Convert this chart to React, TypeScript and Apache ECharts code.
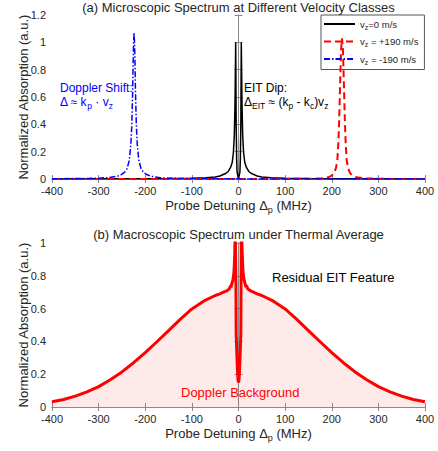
import React, { useEffect, useRef } from "react";
import * as echarts from "echarts";

// ---------- data ----------
const xTickMin = -400;
const xTickMax = 400;

// (a) microscopic spectra
const blackX = [-400, -300, -200, -150, -100, -70, -50, -40, -28, -22, -17, -13.5, -11, -9, -7.5, -6.5, -6, -5.5, -5, -4, -3, 0, 3, 4, 5, 5.5, 6, 6.5, 7.5, 9, 11, 13.5, 17, 22, 28, 40, 50, 70, 100, 150, 200, 300, 400];
const blackY = [0.0005, 0.001, 0.002, 0.003, 0.005, 0.009, 0.015, 0.022, 0.04, 0.055, 0.085, 0.12, 0.19, 0.32, 0.55, 0.85, 1.0, 0.7, 0.4, 0.15, 0.05, 0.0, 0.05, 0.15, 0.4, 0.7, 1.0, 0.85, 0.55, 0.32, 0.19, 0.12, 0.085, 0.055, 0.04, 0.022, 0.015, 0.009, 0.005, 0.003, 0.002, 0.001, 0.0005];

const redX = [-400, -200, 0, 100, 122, 150, 172, 180, 192, 200, 205, 209, 212, 214, 216, 218, 220, 222, 224, 226, 228, 230, 232, 235, 239, 244, 252, 272, 322, 400];
const redY = [0, 0, 0.0002, 0.0006, 0.001, 0.002, 0.004, 0.006, 0.012, 0.025, 0.045, 0.08, 0.14, 0.25, 0.44, 0.7, 0.95, 1.03, 0.95, 0.7, 0.44, 0.25, 0.14, 0.08, 0.045, 0.025, 0.012, 0.004, 0.001, 0.0005];

const blueX = [-400, -350, -324, -300, -280, -260, -250, -244, -239, -234, -231, -229, -227, -226, -225, -224, -223, -222, -221, -219, -217, -214, -209, -204, -198, -188, -168, -148, -124, -24, 100, 200, 300, 400];
const blueY = [0.002, 0.003, 0.004, 0.006, 0.01, 0.02, 0.035, 0.05, 0.075, 0.14, 0.25, 0.38, 0.65, 0.85, 1.0, 1.07, 1.0, 0.85, 0.65, 0.38, 0.25, 0.14, 0.075, 0.05, 0.035, 0.02, 0.01, 0.006, 0.004, 0.001, 0.0005, 0.0003, 0.0002, 0.0001];

// (b) thermally averaged spectrum
const thermX = [-400, -375, -350, -325, -300, -275, -250, -225, -200, -175, -150, -125, -100, -75, -50, -40, -30, -25, -20, -17, -16, -15, -12, -10, -9, -8, -7, -6, -5.5, -5, -4, -3, -2, -1, 0, 1, 2, 3, 4, 5, 5.5, 6, 7, 8, 9, 10, 12, 15, 16, 17, 20, 25, 30, 40, 50, 75, 100, 125, 150, 175, 200, 225, 250, 275, 300, 325, 350, 375, 400];
const thermY = [0.032, 0.046, 0.066, 0.092, 0.124, 0.166, 0.214, 0.27, 0.332, 0.398, 0.466, 0.534, 0.598, 0.645, 0.68, 0.69, 0.703, 0.708, 0.72, 0.738, 0.728, 0.745, 0.775, 0.815, 0.86, 0.94, 1.1, 1.1, 0.75, 0.45, 0.36, 0.28, 0.21, 0.165, 0.15, 0.165, 0.21, 0.28, 0.36, 0.45, 0.75, 1.1, 1.1, 0.94, 0.86, 0.815, 0.775, 0.743, 0.73, 0.74, 0.72, 0.71, 0.703, 0.69, 0.68, 0.645, 0.598, 0.534, 0.466, 0.398, 0.332, 0.27, 0.214, 0.166, 0.124, 0.092, 0.066, 0.046, 0.032];

const legendNames = ["vz=0 m/s", "vz = +190 m/s", "vz = -190 m/s"];
const legendRich = ["{t|v}{s|z}{t|=0 m/s}", "{t|v}{s|z}{t| = +190 m/s}", "{t|v}{s|z}{t| = -190 m/s}"];

const titleA = "(a) Microscopic Spectrum at Different Velocity Classes";
const titleB = "(b) Macroscopic Spectrum under Thermal Average";
const xName = "Probe Detuning Δ{s|p} (MHz)";
const yName = "Normalized Absorption (a.u.)";

const zip = (xs: number[], ys: number[]) => xs.map((x, i) => [x, ys[i]]);

const FONT = "'Liberation Sans', Arial, Helvetica, sans-serif";
const AX = "#8a8a8a";
const TXT = "#262626";

const subRich = (size: number, pad: number) => ({
  s: { fontSize: size, padding: [pad, 0, 0, 0], fontFamily: FONT },
});

function xAxes(gridIndex: number) {
  return [
    {
      type: "value",
      gridIndex,
      min: xTickMin,
      max: xTickMax,
      interval: 100,
      position: "bottom",
      name: xName,
      nameLocation: "middle",
      nameGap: 18,
      nameMoveOverlap: false,
      nameTextStyle: { fontSize: 13, color: TXT, fontFamily: FONT, rich: subRich(9, 8) },
      axisLine: { show: true, lineStyle: { color: AX, width: 1 } },
      axisTick: { show: true, inside: true, length: 4, lineStyle: { color: AX } },
      axisLabel: { fontSize: 11, color: TXT, fontFamily: FONT, margin: 6 },
      splitLine: { show: false },
    },
    {
      type: "value",
      gridIndex,
      min: xTickMin,
      max: xTickMax,
      interval: 100,
      position: "top",
      axisLine: { show: true, lineStyle: { color: AX, width: 1 } },
      axisTick: { show: true, inside: true, length: 4, lineStyle: { color: AX } },
      axisLabel: { show: false },
      splitLine: { show: false },
    },
  ];
}

function yAxes(gridIndex: number, max: number) {
  return [
    {
      type: "value",
      gridIndex,
      min: 0,
      max,
      interval: 0.2,
      position: "left",
      name: yName,
      nameLocation: "middle",
      nameGap: 22,
      nameMoveOverlap: false,
      nameTextStyle: { fontSize: 13, color: TXT, fontFamily: FONT },
      axisLine: { show: true, lineStyle: { color: AX, width: 1 } },
      axisTick: { show: true, inside: true, length: 4, lineStyle: { color: AX } },
      axisLabel: { fontSize: 11, color: TXT, fontFamily: FONT, margin: 6 },
      splitLine: { show: false },
    },
    {
      type: "value",
      gridIndex,
      min: 0,
      max,
      interval: 0.2,
      position: "right",
      axisLine: { show: true, lineStyle: { color: AX, width: 1 } },
      axisTick: { show: true, inside: true, length: 4, lineStyle: { color: AX } },
      axisLabel: { show: false },
      splitLine: { show: false },
    },
  ];
}

function txt(x: number, y: number, text: string, color: string, size: number, align = "left", rich?: any) {
  return {
    type: "text",
    x,
    y,
    z: 10,
    style: {
      text,
      fill: color,
      font: `${size}px ${FONT}`,
      fontSize: size,
      fontFamily: FONT,
      align,
      verticalAlign: "middle",
      rich,
    },
  };
}

export default function App() {
  const ref = useRef<HTMLDivElement>(null);
  useEffect(() => {
    if (!ref.current) return;
    const chart = echarts.init(ref.current, null, { renderer: "svg" });
    const option: any = {
      animation: false,
      backgroundColor: "#ffffff",
      textStyle: { fontFamily: FONT },
      grid: [
        { left: 52, top: 15, width: 373, height: 164, containLabel: false },
        { left: 52, top: 243, width: 373, height: 164, containLabel: false },
      ],
      xAxis: [...xAxes(0), ...xAxes(1)],
      yAxis: [...yAxes(0, 1.2), ...yAxes(1, 1)],
      legend: {
        data: legendNames,
        orient: "vertical",
        left: 321,
        top: 15,
        itemWidth: 31,
        itemHeight: 10,
        itemGap: 6,
        itemTextGap: 3,
        padding: [4, 6, 4, 2],
        borderColor: "#555",
        borderWidth: 1,
        backgroundColor: "transparent",
        selectedMode: false,
        itemStyle: { opacity: 0, color: "transparent", borderWidth: 0 },
        formatter: (name: string) => legendRich[legendNames.indexOf(name)],
        textStyle: {
          fontSize: 9.5,
          color: TXT,
          fontFamily: FONT,
          rich: { t: { fontSize: 9.5, fontFamily: FONT, color: TXT }, s: { fontSize: 7, padding: [6, 0, 0, 0], fontFamily: FONT, color: TXT } },
        },
      },
      series: [
        {
          name: legendNames[0],
          type: "line",
          xAxisIndex: 0,
          yAxisIndex: 0,
          data: zip(blackX, blackY),
          symbol: "none",
          lineStyle: { color: "#000000", width: 1.5, type: "solid" },
          itemStyle: { color: "#000000" },
          clip: true,
        },
        {
          name: legendNames[1],
          type: "line",
          xAxisIndex: 0,
          yAxisIndex: 0,
          data: zip(redX, redY),
          symbol: "none",
          lineStyle: { color: "#ff0000", width: 2, type: [7, 4] },
          itemStyle: { color: "#ff0000" },
          clip: true,
        },
        {
          name: legendNames[2],
          type: "line",
          xAxisIndex: 0,
          yAxisIndex: 0,
          data: zip(blueX, blueY),
          symbol: "none",
          lineStyle: { color: "#0000ff", width: 1.5, type: [6, 2, 1.5, 2] },
          itemStyle: { color: "#0000ff" },
          clip: true,
        },
        {
          name: "thermal",
          type: "line",
          xAxisIndex: 2,
          yAxisIndex: 2,
          data: zip(thermX, thermY),
          symbol: "none",
          lineStyle: { color: "#ff0000", width: 3 },
          itemStyle: { color: "#ff0000" },
          areaStyle: { color: "rgba(255,0,0,0.12)", origin: "start" },
          clip: true,
        },
      ],
      graphic: [
        txt(238.5, 7, titleA, TXT, 13, "center"),
        txt(238.5, 234, titleB, TXT, 13, "center"),
        txt(60, 88, "Doppler Shift:", "#0000ff", 12),
        txt(60, 102, "Δ ≈ k{s|p} · v{s|z}", "#0000ff", 12, "left", subRich(8.5, 8)),
        txt(244, 88, "EIT Dip:", "#000000", 12),
        txt(244, 102, "Δ{s|EIT} ≈ (k{s|p} - k{s|c})v{s|z}", "#000000", 12, "left", subRich(8.5, 8)),
        txt(272, 277, "Residual EIT Feature", "#000000", 13),
        txt(181, 392, "Doppler Background", "#ff0000", 13),
      ],
    };
    chart.setOption(option);
    return () => chart.dispose();
  }, []);
  return <div ref={ref} style={{ position: "fixed", left: 0, top: 0, width: 438, height: 451 }} />;
}
